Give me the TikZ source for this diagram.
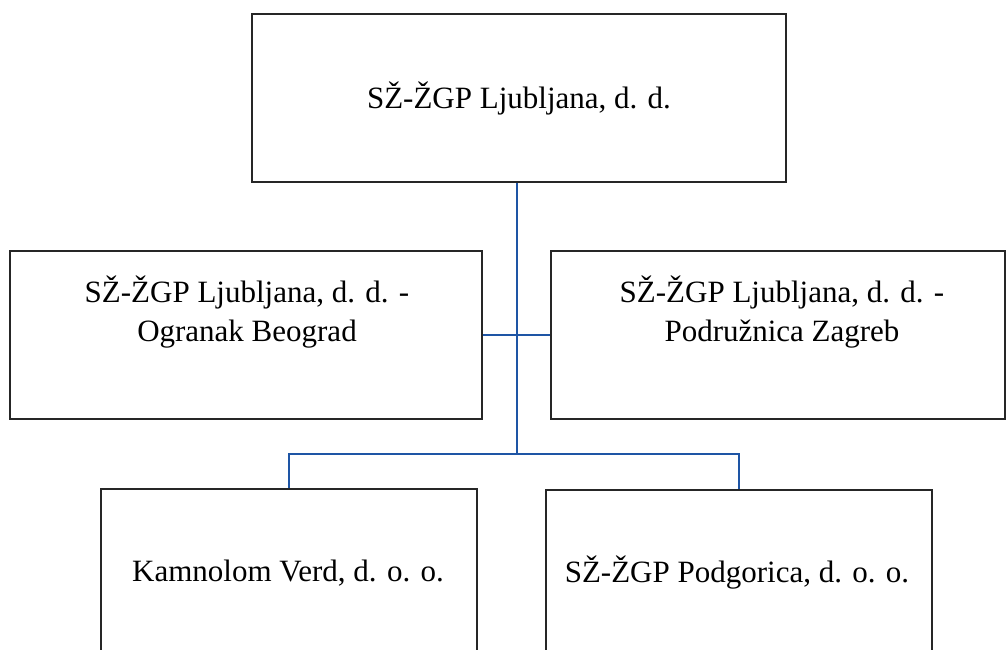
\documentclass[tikz,border=0pt]{standalone}
\usepackage{fontspec}
\setmainfont{Liberation Serif}
\definecolor{linkblue}{RGB}{30,85,165}
\tikzset{
	box/.style={draw=black!85,line width=1.6pt,inner sep=0pt},
	txt/.style={align=center,font=\fontsize{31}{39}\selectfont},
	link/.style={draw=linkblue,line width=1.8pt}
}
\begin{document}
\begin{tikzpicture}[x=1pt,y=-1pt]
			\useasboundingbox(0,0)rectangle(1007,649);
			\node[box,minimum width=534pt,minimum height=168pt](top)at(519,98){};
			\node[box,minimum width=472pt,minimum height=168pt](mleft)at(246,335){};
			\node[box,minimum width=454pt,minimum height=168pt](mright)at(778,335){};
			\node[box,minimum width=376pt,minimum height=170pt](bleft)at(289,574){};
			\node[box,minimum width=386pt,minimum height=170pt](bright)at(739,575){};
			\node[txt](ttop)at(top){S\v{Z}-\v{Z}GP Ljubljana, d. d.};
			\node[txt](tmleft)at(247,312){S\v{Z}-\v{Z}GP Ljubljana, d. d. -\\Ogranak Beograd};
			\node[txt](tmright)at(782,312){S\v{Z}-\v{Z}GP Ljubljana, d. d. -\\Podru\v{z}nica Zagreb};
			\node[txt](tbleft)at(288,573){Kamnolom Verd, d. o. o.};
			\node[txt](tbright)at(737,573){S\v{Z}-\v{Z}GP Podgorica, d. o. o.};
			\coordinate(hub)at(517,335);
			\coordinate(split)at(517,454);
			\draw[link](top.south-|hub)--(split);
			\draw[link](mleft)--(mright);
			\draw[link](bleft.north)|-(split)-|(bright.north);
	\end{tikzpicture}
\end{document}
